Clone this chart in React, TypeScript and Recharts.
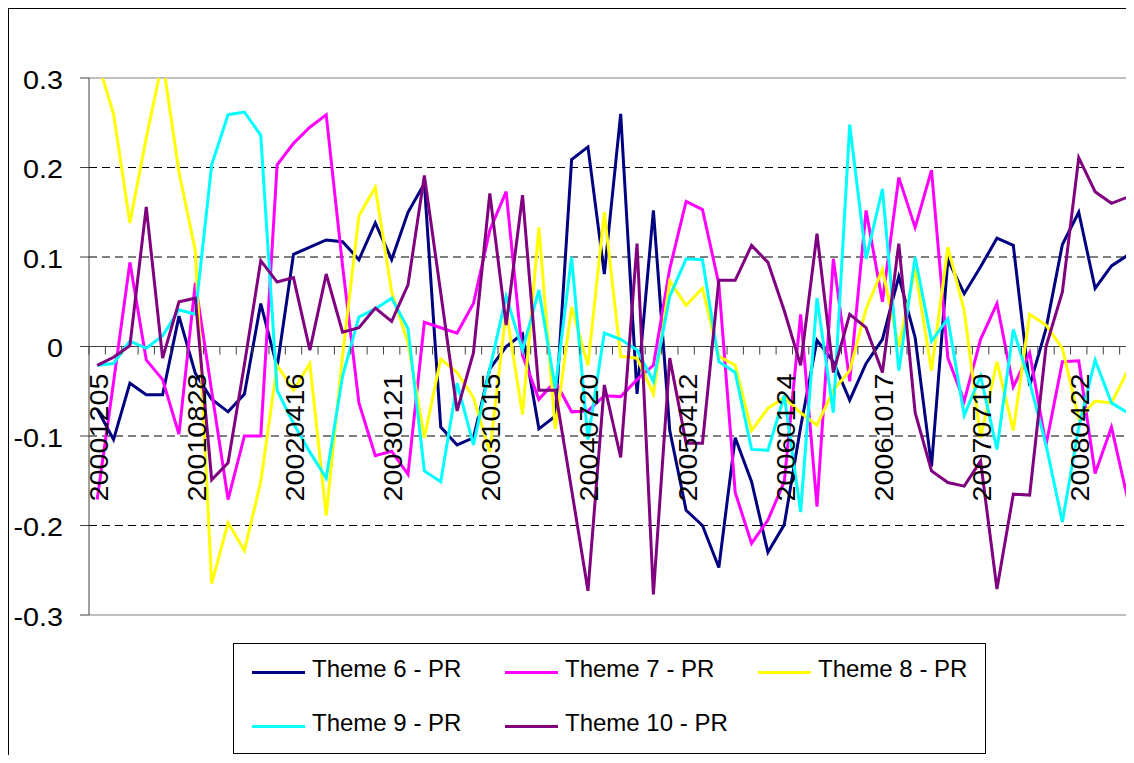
import React from 'react';
import { LineChart, Line, XAxis, YAxis, ReferenceLine } from 'recharts';

// category labels (only every 6th is printed on the axis)
const dates = [
  '20001205', '20010116', '20010227', '20010410', '20010522', '20010710',
  '20010828', '20011009', '20011113', '20011218', '20020129', '20020305',
  '20020416', '20020604', '20020716', '20020903', '20021022', '20021203',
  '20030121', '20030304', '20030415', '20030603', '20030715', '20030902',
  '20031015', '20031202', '20040120', '20040302', '20040420', '20040608',
  '20040720', '20040831', '20041012', '20041123', '20050111', '20050301',
  '20050412', '20050531', '20050719', '20050830', '20051018', '20051206',
  '20060124', '20060307', '20060418', '20060530', '20060711', '20060829',
  '20061017', '20061128', '20070109', '20070220', '20070403', '20070522',
  '20070710', '20070821', '20071009', '20071120', '20080108', '20080304',
  '20080422', '20080603', '20080715', '20080826',
];

const theme6 = [
  -0.07, -0.104, -0.041, -0.054, -0.054, 0.034, -0.03, -0.059, -0.073, -0.053,
  0.048, -0.023, 0.103, 0.111, 0.119, 0.117, 0.097, 0.138, 0.097, 0.15,
  0.182, -0.09, -0.11, -0.102, -0.025, 0.0, 0.014, -0.092, -0.078, 0.209,
  0.223, 0.081, 0.26, -0.053, 0.152, -0.094, -0.183, -0.2, -0.247, -0.102,
  -0.151, -0.23, -0.199, -0.09, 0.007, -0.017, -0.06, -0.019, 0.008, 0.078,
  0.01, -0.134, 0.097, 0.059, 0.089, 0.121, 0.113, -0.044, 0.02, 0.114,
  0.15, 0.065, 0.09, 0.102,
];

const theme7 = [
  -0.171, -0.04, 0.094, -0.015, -0.037, -0.098, 0.071, -0.05, -0.171, -0.1,
  -0.1, 0.203, 0.227, 0.245, 0.259, 0.09, -0.063, -0.122, -0.117, -0.143,
  0.027, 0.021, 0.015, 0.048, 0.13, 0.173, -0.01, -0.059, -0.039, -0.073,
  -0.072, -0.055, -0.056, -0.037, -0.021, 0.087, 0.162, 0.153, 0.07, -0.163,
  -0.22, -0.194, -0.151, 0.036, -0.179, 0.098, -0.039, 0.152, 0.05, 0.189,
  0.133, 0.197, -0.013, -0.061, 0.008, 0.048, -0.045, -0.007, -0.11, -0.017,
  -0.016, -0.142, -0.09, -0.171,
];

const theme8 = [
  0.32, 0.26, 0.138, 0.233, 0.32, 0.195, 0.107, -0.265, -0.197, -0.228,
  -0.151, -0.021, -0.049, -0.019, -0.189, -0.01, 0.146, 0.178, 0.061, 0.004,
  -0.102, -0.014, -0.029, -0.057, -0.118, 0.04, -0.076, 0.133, -0.092, 0.044,
  -0.021, 0.15, -0.011, -0.013, -0.053, 0.073, 0.046, 0.065, -0.011, -0.021,
  -0.094, -0.069, -0.057, -0.074, -0.088, -0.049, -0.027, 0.042, 0.086, 0.0,
  0.087, -0.027, 0.111, 0.04, -0.102, -0.017, -0.094, 0.036, 0.024, -0.002,
  -0.08, -0.061, -0.063, -0.027,
];

const theme9 = [
  -0.021, -0.019, 0.006, -0.002, 0.012, 0.041, 0.036, 0.203, 0.259, 0.262,
  0.236, -0.049, -0.086, -0.118, -0.147, -0.033, 0.033, 0.042, 0.054, 0.02,
  -0.139, -0.151, -0.041, -0.11, -0.025, 0.056, -0.004, 0.063, -0.047, 0.1,
  -0.104, 0.015, 0.008, -0.004, -0.039, 0.056, 0.098, 0.097, -0.017, -0.029,
  -0.115, -0.116, -0.055, -0.185, 0.054, -0.074, 0.248, 0.098, 0.176, -0.027,
  0.1, 0.006, 0.031, -0.077, -0.033, -0.115, 0.019, -0.04, -0.11, -0.196,
  -0.09, -0.015, -0.063, -0.074,
];

const theme10 = [
  -0.021, -0.012, 0.001, 0.156, -0.013, 0.05, 0.054, -0.149, -0.13, -0.02,
  0.096, 0.072, 0.077, -0.004, 0.081, 0.016, 0.021, 0.043, 0.028, 0.069,
  0.191, 0.06, -0.072, -0.007, 0.171, 0.024, 0.169, -0.049, -0.049, -0.16,
  -0.273, -0.043, -0.124, 0.115, -0.277, -0.013, -0.108, -0.108, 0.074, 0.074,
  0.113, 0.094, 0.04, -0.021, 0.126, -0.029, 0.036, 0.021, -0.029, 0.115,
  -0.074, -0.139, -0.152, -0.156, -0.128, -0.271, -0.165, -0.166, 0.0, 0.061,
  0.211, 0.173, 0.16, 0.167,
];

const seriesKeys = ['t6', 't7', 't8', 't9', 't10'];
const seriesNames = ['Theme 6 - PR', 'Theme 7 - PR', 'Theme 8 - PR', 'Theme 9 - PR', 'Theme 10 - PR'];
const seriesColors = ['#000080', '#FF00FF', '#FFFF00', '#00FFFF', '#800080'];
const seriesValues = [theme6, theme7, theme8, theme9, theme10];

const yTicks = [-0.3, -0.2, -0.1, 0, 0.1, 0.2, 0.3];
const gridValues = [-0.2, -0.1, 0.1, 0.2];
const labelEvery = 6;

const data = dates.map((date, i) => {
  const row: Record<string, string | number> = { date };
  seriesKeys.forEach((k, s) => {
    row[k] = seriesValues[s][i];
  });
  return row;
});

// layout
const W = 1150;
const H = 763;
const PLOT_LEFT = 89;
const PLOT_TOP = 78;
const PLOT_RIGHT = 1136;
const PLOT_BOTTOM = 615;
const PLOT_W = PLOT_RIGHT - PLOT_LEFT;
const PLOT_H = PLOT_BOTTOM - PLOT_TOP;
const STEP = PLOT_W / dates.length;
const Y_MIN = -0.3;
const Y_MAX = 0.3;
const ZERO_Y = PLOT_TOP + (PLOT_H * Y_MAX) / (Y_MAX - Y_MIN);
const FONT = '"Liberation Sans", Arial, sans-serif';

function XTick(props: any) {
  const { x, index, payload } = props;
  return (
    <g>
      <line x1={x - STEP / 2} x2={x - STEP / 2} y1={ZERO_Y} y2={ZERO_Y + 8} stroke="#404040" />
      {index % labelEvery === 0 && (
        <text
          transform={`translate(${x},${ZERO_Y + 27}) rotate(-90) scale(1.15,1)`}
          textAnchor="end"
          dy="0.42em"
          fontSize={25}
          fontFamily={FONT}
          fill="#000"
        >
          {payload.value}
        </text>
      )}
    </g>
  );
}

function YTick(props: any) {
  const { x, y, payload } = props;
  const v = payload.value;
  const label = v === 0 ? '0' : v.toFixed(1);
  return (
    <text
      transform={`translate(${x},${y}) scale(1.15,1)`}
      textAnchor="end"
      dy="0.42em"
      fontSize={25}
      fontFamily={FONT}
      fill="#000"
    >
      {label}
    </text>
  );
}

export default function App() {
  return (
    <div style={{ margin: -8, width: 1134, height: 763, overflow: 'hidden', position: 'relative', background: '#fff' }}>
      <div
        style={{
          position: 'absolute',
          left: 7,
          top: 7,
          width: 1200,
          height: 800,
          border: '2px solid #000',
        }}
      />
      <div style={{ position: 'absolute', left: 0, top: 0 }}>
        <LineChart
          width={W}
          height={H}
          data={data}
          margin={{ top: PLOT_TOP, right: W - PLOT_RIGHT, bottom: 0, left: 0 }}
        >
          <XAxis
            dataKey="date"
            scale="point"
            padding={{ left: STEP / 2, right: STEP / 2 }}
            interval={0}
            height={H - PLOT_BOTTOM}
            axisLine={false}
            tickLine={false}
            tick={<XTick />}
          />
          <YAxis
            width={PLOT_LEFT}
            domain={[Y_MIN, Y_MAX]}
            ticks={yTicks}
            allowDataOverflow
            axisLine={{ stroke: '#404040' }}
            tickLine={{ stroke: '#404040' }}
            tickSize={9}
            tickMargin={17}
            tick={<YTick />}
          />
          {gridValues.map((g) => (
            <ReferenceLine key={g} y={g} stroke="#000" strokeDasharray="8 5" />
          ))}
          <ReferenceLine y={Y_MAX} stroke="#808080" />
          <ReferenceLine y={Y_MIN} stroke="#808080" />
          <ReferenceLine y={0} stroke="#404040" />
          {seriesKeys.map((k, s) => (
            <Line
              key={k}
              type="linear"
              dataKey={k}
              name={seriesNames[s]}
              stroke={seriesColors[s]}
              strokeWidth={3}
              dot={false}
              activeDot={false}
              isAnimationActive={false}
            />
          ))}
        </LineChart>
      </div>
      <div
        style={{
          position: 'absolute',
          left: 233,
          top: 643,
          width: 753,
          height: 111,
          border: '1px solid #000',
          boxSizing: 'border-box',
          background: '#fff',
        }}
      >
        {seriesNames.map((n, i) => {
          const col = i % 3;
          const row = Math.floor(i / 3);
          return (
            <div
              key={n}
              style={{
                position: 'absolute',
                left: 18 + col * 253,
                top: 14 + row * 54,
                height: 28,
                display: 'flex',
                alignItems: 'center',
                whiteSpace: 'nowrap',
              }}
            >
              <div style={{ width: 53, height: 3, background: seriesColors[i] }} />
              <span
                style={{
                  marginLeft: 7,
                  fontSize: 24,
                  fontFamily: FONT,
                  color: '#000',
                  lineHeight: '28px',
                  position: 'relative',
                  top: -3,
                }}
              >
                {n}
              </span>
            </div>
          );
        })}
      </div>
    </div>
  );
}
